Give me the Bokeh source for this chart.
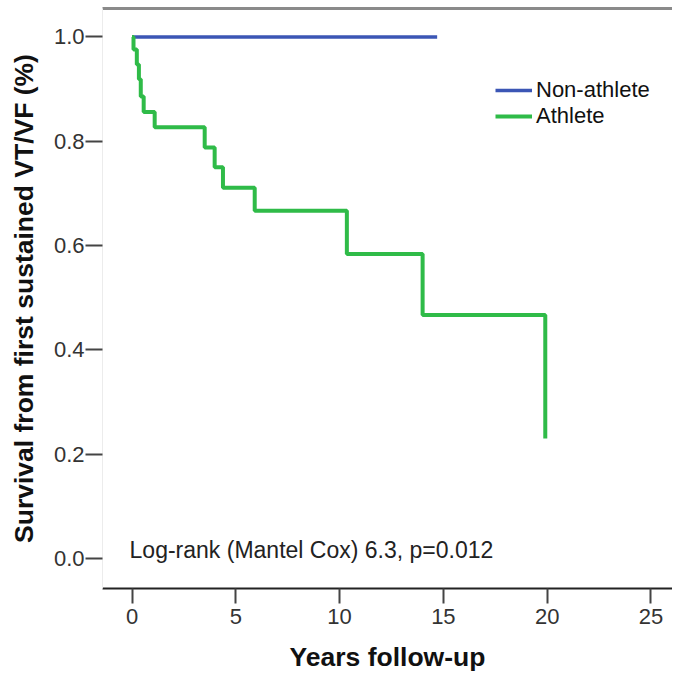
from bokeh.plotting import figure
from bokeh.models import (Range1d, FixedTicker, Legend, LegendItem, Label,
                          NumeralTickFormatter, LinearAxis)
from bokeh.embed import file_html
from bokeh.resources import INLINE

# ---- data ----
athlete_time = [0.0, 0.07, 0.23, 0.33, 0.42, 0.56, 1.09, 3.50, 3.98, 4.38, 5.91, 10.35, 14.0, 19.91]
athlete_surv = [1.0, 0.976, 0.947, 0.919, 0.886, 0.856, 0.827, 0.788, 0.750, 0.711, 0.667, 0.584, 0.467, 0.230]
nonathlete_time = [0.0, 14.7]
nonathlete_surv = [1.0, 1.0]
x_ticks = [0, 5, 10, 15, 20, 25]
y_ticks = [0.0, 0.2, 0.4, 0.6, 0.8, 1.0]
series_labels = ["Non-athlete", "Athlete"]
annotation = "Log-rank (Mantel Cox) 6.3, p=0.012"
x_title = "Years follow-up"
y_title = "Survival from first sustained VT/VF (%)"

BLUE = "#3b56b5"
GREEN = "#2fbb48"
FONT = "Liberation Sans"

p = figure(width=672, height=674, output_backend="svg", toolbar_location=None,
           x_range=Range1d(-1.424, 26.04), y_range=Range1d(-0.0574, 1.0545),
           min_border_left=102, min_border_right=0, min_border_top=8,
           min_border_bottom=84)

p.background_fill_color = "white"
p.border_fill_color = "white"
p.outline_line_color = None
p.xgrid.grid_line_color = None
p.ygrid.grid_line_color = None

# x axis (the default one below the frame)
xa = p.below[0]
xa.ticker = FixedTicker(ticks=x_ticks)
xa.minor_tick_line_color = None
xa.axis_line_color = "#222222"
xa.axis_line_width = 2
xa.major_tick_line_color = "#444444"
xa.major_tick_line_width = 2
xa.major_tick_in = 0
xa.major_tick_out = 15
xa.major_label_standoff = 5
xa.major_label_text_font = FONT
xa.major_label_text_font_size = "22px"
xa.major_label_text_color = "#333333"
xa.axis_label = x_title
xa.axis_label_text_font = FONT
xa.axis_label_text_font_style = "bold"
xa.axis_label_text_font_size = "26.5px"
xa.axis_label_text_color = "#111111"
xa.axis_label_standoff = 15

# y axis
ya = p.left[0]
ya.ticker = FixedTicker(ticks=y_ticks)
ya.formatter = NumeralTickFormatter(format="0.0")
ya.minor_tick_line_color = None
ya.axis_line_color = "#ececec"
ya.axis_line_width = 1
ya.major_tick_line_color = "#444444"
ya.major_tick_line_width = 2
ya.major_tick_in = 0
ya.major_tick_out = 17
ya.major_label_standoff = 1
ya.major_label_text_font = FONT
ya.major_label_text_font_size = "22px"
ya.major_label_text_color = "#333333"
ya.axis_label = y_title
ya.axis_label_text_font = FONT
ya.axis_label_text_font_style = "bold"
ya.axis_label_text_font_size = "26.5px"
ya.axis_label_text_color = "#111111"
ya.axis_label_standoff = 12

# top gray rule of the frame (an empty axis above)
top_axis = LinearAxis(ticker=FixedTicker(ticks=[]), axis_line_color="#8a8a8a",
                      axis_line_width=3, major_tick_out=0, major_tick_in=0,
                      minor_tick_out=0, minor_tick_in=0,
                      major_label_text_font_size="0px")
p.add_layout(top_axis, "above")

r_non = p.step(nonathlete_time, nonathlete_surv, mode="after", line_color=BLUE, line_width=3.5)
r_ath = p.step(athlete_time, athlete_surv, mode="after", line_color=GREEN, line_width=4)

legend = Legend(items=[LegendItem(label=series_labels[0], renderers=[r_non]),
                       LegendItem(label=series_labels[1], renderers=[r_ath])],
                location=(393, 459))
legend.label_text_font = FONT
legend.label_text_font_size = "22px"
legend.label_text_color = "#111111"
legend.glyph_width = 37
legend.glyph_height = 20
legend.label_height = 24
legend.spacing = 0
legend.padding = 0
legend.margin = 0
legend.label_standoff = 4
legend.background_fill_alpha = 0
legend.border_line_color = None
p.add_layout(legend)

p.add_layout(Label(x=-0.12, y=0.016, text=annotation, text_font=FONT,
                   text_font_size="23px", text_color="#222222",
                   text_baseline="middle", text_align="left"))

open("out.html", "w").write(file_html(p, INLINE))
